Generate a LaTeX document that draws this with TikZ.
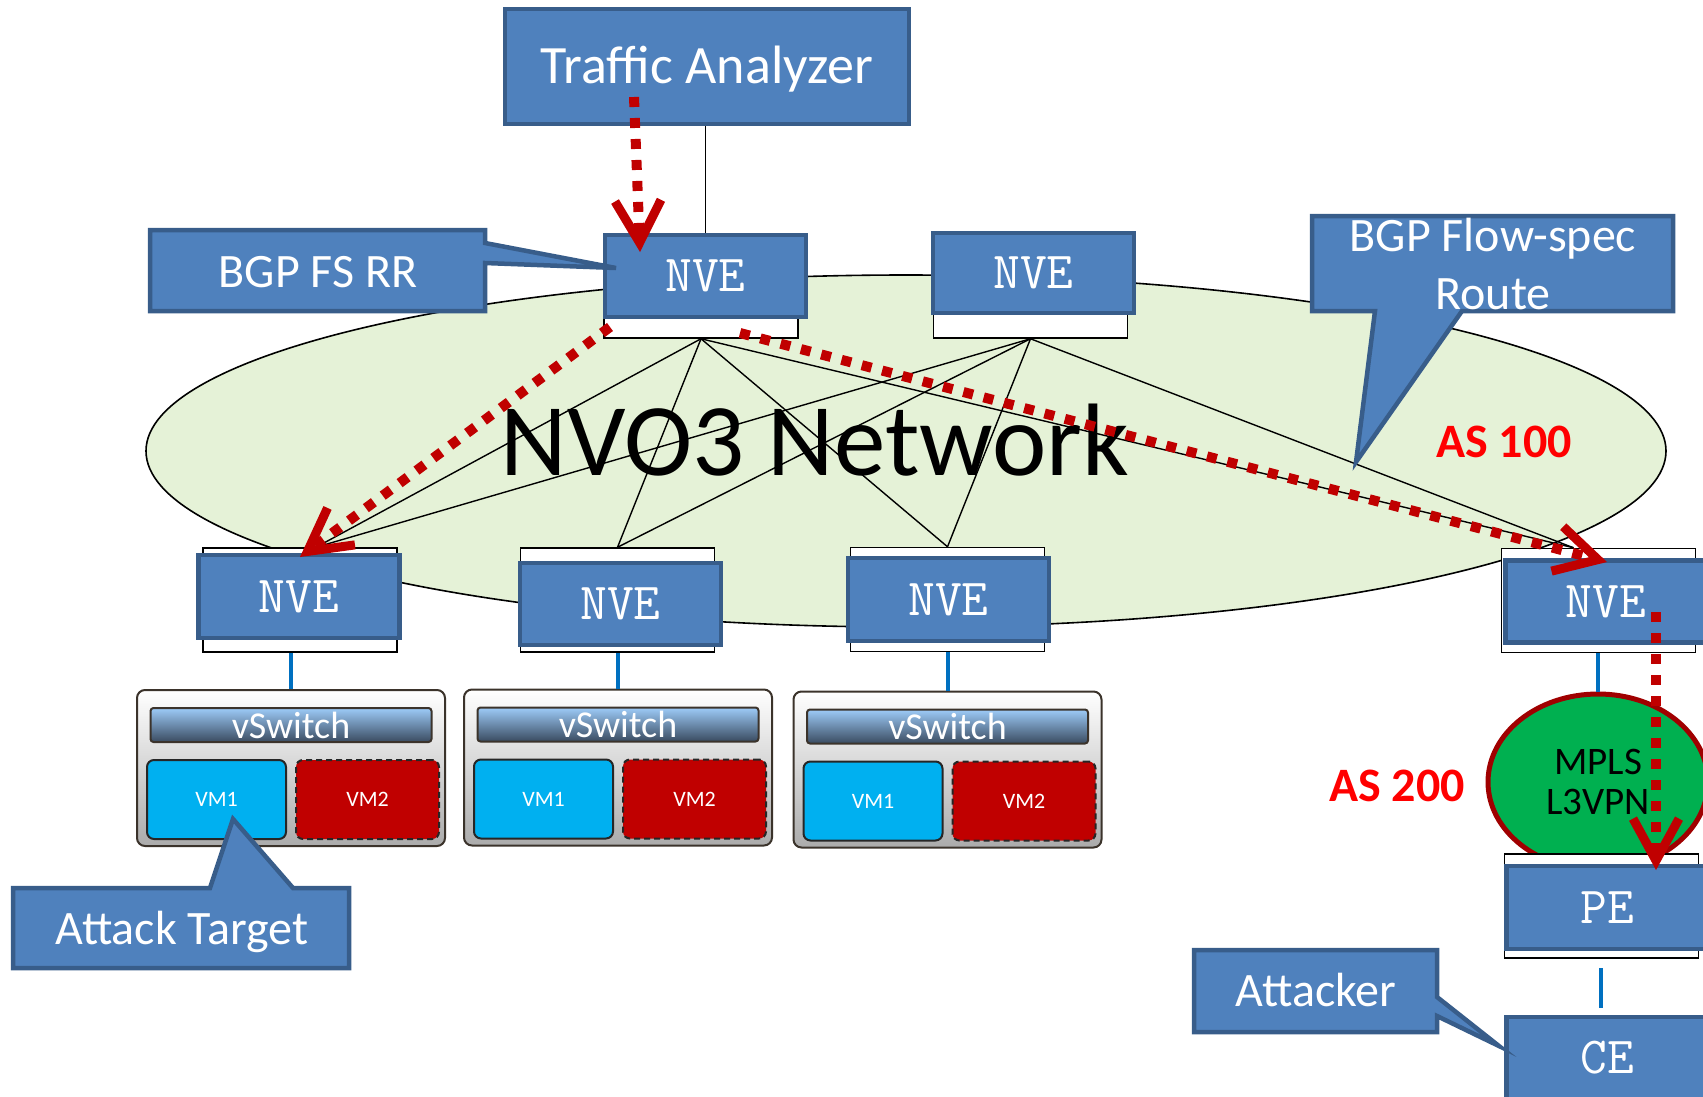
\documentclass[tikz,border=0pt]{standalone}
\usepackage{fontspec}
\setmainfont{Carlito}
\usepackage{tikz}
\usetikzlibrary{arrows.meta,shapes.geometric,positioning}
\definecolor{boxblue}{HTML}{4F81BD}
\definecolor{boxedge}{HTML}{385D8A}
\definecolor{cloud}{HTML}{E5F2D7}
\definecolor{attackred}{HTML}{C00000}
\definecolor{asred}{HTML}{FF0000}
\definecolor{linkblue}{HTML}{0070C0}
\definecolor{vmblue}{HTML}{00B0F0}
\definecolor{vmred}{HTML}{C00000}
\definecolor{vmedge}{HTML}{262626}
\definecolor{hostedge}{HTML}{3B332B}
\definecolor{hostgray}{HTML}{ABABAB}
\definecolor{swtop}{HTML}{9DCBF8}
\definecolor{swbot}{HTML}{3A4B60}
\definecolor{mplsgreen}{HTML}{00B050}
\definecolor{mplsedge}{HTML}{A00000}
\tikzset{
  nve/.style={rectangle, fill=boxblue, draw=boxedge, line width=4.5pt, text=white,
    font=\ttfamily\fontsize{52}{52}\selectfont, minimum width=201pt, minimum height=82pt, inner sep=0pt},
  port/.style={rectangle, fill=white, draw=black, line width=1.5pt, minimum width=194pt,
    minimum height=104pt, inner sep=0pt},
  host/.style={rectangle, rounded corners=8pt, draw=hostedge, line width=2pt, top color=white,
    bottom color=hostgray, minimum width=308pt, minimum height=156pt, inner sep=0pt},
  vswitch/.style={rectangle, rounded corners=3pt, draw=hostedge, line width=2pt, top color=swtop,
    bottom color=swbot, text=white, font=\fontsize{38}{38}\selectfont, minimum width=281pt,
    minimum height=34pt, inner sep=0pt},
  vm/.style={rectangle, rounded corners=7pt, draw=vmedge, line width=2pt, fill=vmblue, text=white,
    font=\fontsize{22}{22}\selectfont, minimum width=139pt, minimum height=79pt, inner sep=0pt},
  badvm/.style={vm, fill=vmred, dash pattern=on 6pt off 4pt, minimum width=143pt},
  tabox/.style={rectangle, fill=boxblue, draw=boxedge, line width=4.5pt, text=white,
    font=\fontsize{54}{60}\selectfont, inner sep=0pt},
  bubble/.style={fill=boxblue, draw=boxedge, line width=4.5pt, line join=miter},
  bubbletext/.style={text=white, font=\fontsize{48}{58}\selectfont, align=center, inner sep=0pt},
  cloudline/.style={fill=cloud, draw=black, line width=1.6pt},
  mesh/.style={draw=black, line width=1.4pt},
  link/.style={draw=linkblue, line width=4pt},
  mpls/.style={ellipse, fill=mplsgreen, draw=mplsedge, line width=5pt, minimum width=220pt,
    minimum height=176pt, inner sep=0pt, align=center, font=\fontsize{39}{40}\selectfont},
  aslabel/.style={text=asred, font=\bfseries\fontsize{48}{48}\selectfont, anchor=base, inner sep=0pt},
  attack/.style={draw=attackred, line width=10pt, dash pattern=on 10pt off 11pt,
    -{Straight Barb[length=42pt,width=46pt,line width=9pt]}}
}

\begin{document}
\begin{tikzpicture}[x=1pt,y=-1pt]
  \useasboundingbox (0,0) rectangle (1703,1096);

  % the NVO3 overlay
  \draw[cloudline] (906,451) ellipse [x radius=760, y radius=176];

  % NVEs
  \node[port, minimum height=98pt] (portA) at (701,289) {};
  \node[nve] (nveA) at (705.5,276) {NVE};
  \node[port, minimum height=98pt] (portB) at (1030.5,289) {};
  \node[nve, minimum height=80pt] (nveB) at (1033.5,273) {NVE};
  \node[port] (port1) at (300,600) {};
  \node[nve, minimum height=83pt] (nve1) at (299,596.5) {NVE};
  \node[port] (port2) at (617.5,600) {};
  \node[nve] (nve2) at (620.5,604) {NVE};
  \node[port] (port3) at (947.5,599.5) {};
  \node[nve, minimum height=83pt] (nve3) at (948.5,599.5) {NVE};
  \node[port] (portX) at (1598.5,600.5) {};
  \node[nve] (nveX) at (1606,601.5) {NVE};

  % full mesh
  \coordinate (in1) at ([xshift=16pt]port1.north);
  \coordinate (inX) at ([xshift=-25pt]portX.north);
  \foreach \s in {portA,portB}
    \foreach \t in {in1,port2.north,port3.north,inX}
      \draw[mesh] (\s.south) -- (\t);

  \node[font=\fontsize{103}{103}\selectfont, anchor=base, inner sep=0pt] (nvo3) at (815,475) {NVO3 Network};

  % hosts
  \node[host] (host1) at (291,768) {};
  \node[vswitch, below=18pt of host1.north] (sw1) {vSwitch};
  \node[vm, above right=7pt and 10pt of host1.south west] (vm1a) {VM1};
  \node[badvm, above left=7pt and 6pt of host1.south east] (vm1b) {VM2};
  \node[host] (host2) at (618,767.5) {};
  \node[vswitch, below=18pt of host2.north] (sw2) {vSwitch};
  \node[vm, above right=7pt and 10pt of host2.south west] (vm2a) {VM1};
  \node[badvm, above left=7pt and 6pt of host2.south east] (vm2b) {VM2};
  \node[host] (host3) at (947.5,769.5) {};
  \node[vswitch, below=18pt of host3.north] (sw3) {vSwitch};
  \node[vm, above right=7pt and 10pt of host3.south west] (vm3a) {VM1};
  \node[badvm, above left=7pt and 6pt of host3.south east] (vm3b) {VM2};

  \draw[link] (host1.north) -- (host1.north |- port1.south);
  \draw[link] (host2.north) -- (host2.north |- port2.south);
  \draw[link] (host3.north) -- (host3.north |- port3.south);

  % analyzer
  \node[tabox, minimum width=404pt, minimum height=115pt, text height=34pt, text depth=0pt]
    (ta) at (707,66.5) {Traffic Analyzer};
  \draw[mesh] (nveA.north |- ta.south) -- (nveA.north);

  % AS 200 side
  \node[mpls] (mpls) at (1598,782) {MPLS\\L3VPN};
  \draw[link] (mpls.north) -- (mpls.north |- portX.south);
  \node[port] (pePort) at (1601.5,906) {};
  \node[nve, minimum height=83pt] (pe) at (1607,907.5) {PE};
  \node[nve] (ce) at (1607,1058) {CE};
  \coordinate (peLow) at (1601,968);
  \coordinate (ceHigh) at (1601,1008);
  \draw[link] (peLow) -- (ceHigh);

  % callouts
  \filldraw[bubble] (150,230) -- (485,230) -- (485,243) -- (616,268) -- (485,263) -- (485,311)
    -- (150,311) -- cycle;
  \node[bubbletext, anchor=base] (rr) at (318,287) {BGP FS RR};
  \filldraw[bubble] (1312,216) -- (1673,216) -- (1673,311) -- (1462,311) -- (1356,462)
    -- (1375,311) -- (1312,311) -- cycle;
  \node[bubbletext] (fs) at (1493,264) {BGP Flow-spec\\Route};
  \filldraw[bubble] (13,888) -- (210,888) -- (233,819) -- (293,888) -- (349,888) -- (349,968)
    -- (13,968) -- cycle;
  \node[bubbletext, anchor=base] (target) at (182,944) {Attack Target};
  \filldraw[bubble] (1194,950) -- (1437,950) -- (1437,997) -- (1499,1046) -- (1437,1016)
    -- (1437,1032) -- (1194,1032) -- cycle;
  \node[bubbletext, anchor=base] (attacker) at (1316,1006) {Attacker};

  \node[aslabel] (as100) at (1504,457) {AS 100};
  \node[aslabel] (as200) at (1397,801) {AS 200};

  % flow-spec route distribution
  \coordinate (taOut) at (634,97);
  \coordinate (rrIn) at (640,252);
  \coordinate (rrOutL) at (610,327);
  \coordinate (nve1In) at (300,557);
  \coordinate (rrOutR) at (740,333);
  \coordinate (nveXIn) at (1607,562);
  \coordinate (nveXOut) at (1656,612);
  \coordinate (peIn) at (1656,870);
  \draw[attack] (taOut) -- (rrIn);
  \draw[attack] (rrOutL) -- (nve1In);
  \draw[attack] (rrOutR) -- (nveXIn);
  \draw[attack] (nveXOut) -- (peIn);
\end{tikzpicture}
\end{document}
